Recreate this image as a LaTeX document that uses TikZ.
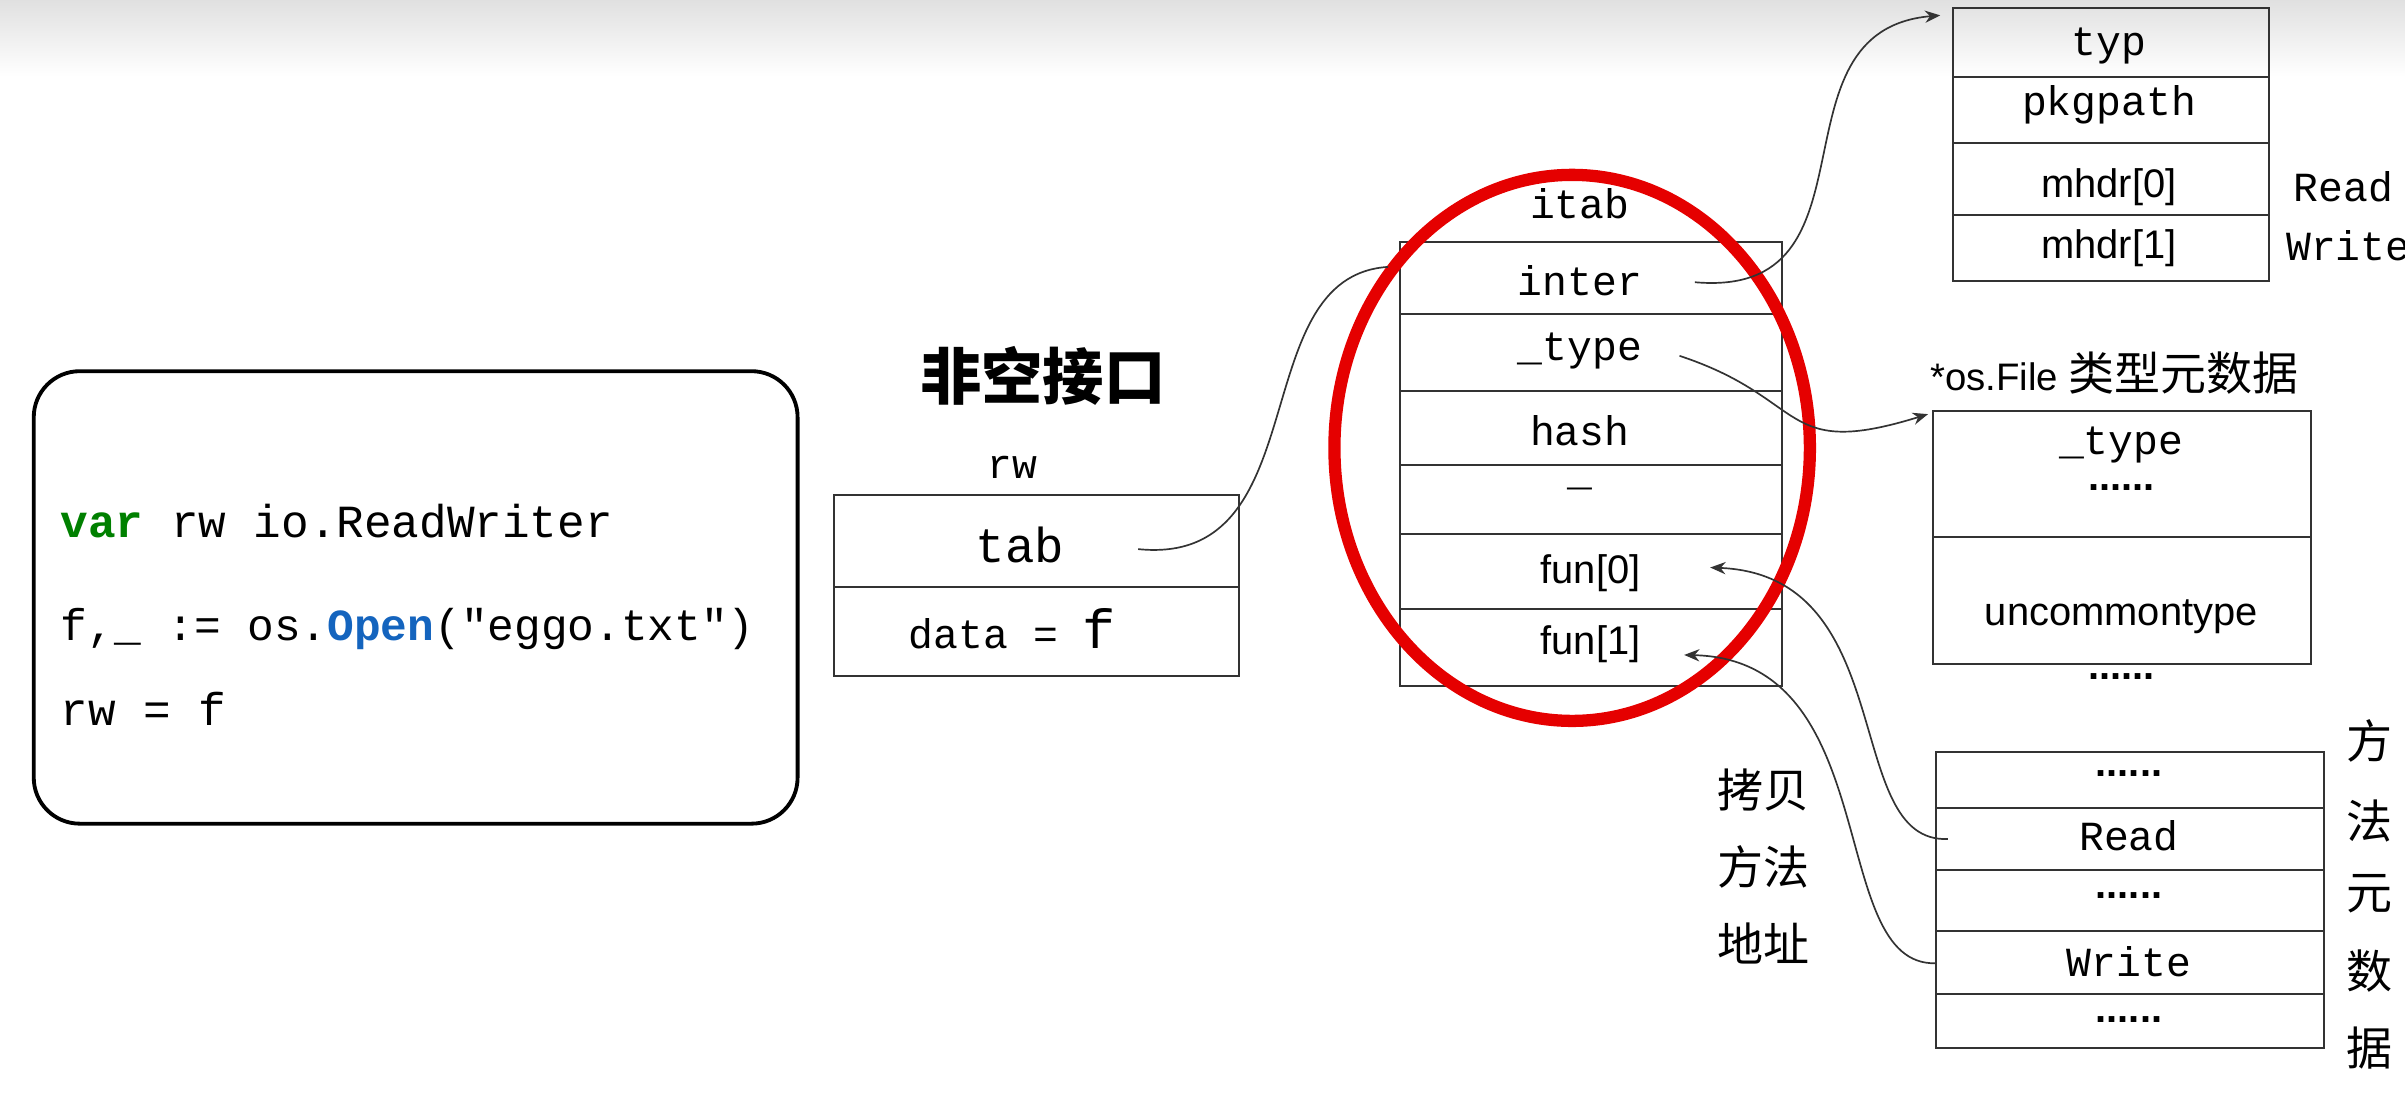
\documentclass[tikz,border=0pt]{standalone}
\usepackage{fontspec}
\setmainfont{Liberation Sans}
\setsansfont{Liberation Sans}
\setmonofont{Liberation Mono}
\newfontfamily\cjk{Noto Sans CJK SC}
\usetikzlibrary{arrows.meta}
\definecolor{kwgreen}{RGB}{0,128,0}
\definecolor{kwblue}{RGB}{20,100,190}
\begin{document}
\begin{tikzpicture}[x=1pt,y=-1pt,
  box/.style={draw=black!80,line width=1.3pt},
  mt/.style={font=\fontsize{27}{30}\selectfont\ttfamily},
  st/.style={font=\fontsize{26}{28}\selectfont\sffamily},
  ck/.style={font=\fontsize{30}{34}\selectfont\cjk},
  conn/.style={draw=black!80,line width=1.1pt},
  arr/.style={conn,-{Stealth[length=10pt,width=8pt]}}]
\useasboundingbox (0,0) rectangle (1568,716);
\shade[top color=black!12,bottom color=white] (0,0) rectangle (1568,50);
% code box
\draw[line width=2.5pt,rounded corners=30pt] (22,242) rectangle (520,537);
\node[anchor=west,font=\fontsize{30}{34}\selectfont\ttfamily] (c1) at (36,340) {\textcolor{kwgreen}{\textbf{var}} rw io.ReadWriter};
\node[anchor=west,font=\fontsize{29}{34}\selectfont\ttfamily] (c2) at (36,410) {f,\_ := os.\textcolor{kwblue}{\textbf{Open}}("eggo.txt")};
\node[anchor=west,font=\fontsize{30}{34}\selectfont\ttfamily] (c3) at (36,462) {rw = f};
% rw
\node[font=\fontsize{40}{44}\selectfont\cjk\bfseries] (title) at (680,245) {非空接口};
\node[mt] (rwl) at (660,305) {rw};
\draw[box] (544,323) rectangle (808,441);
\draw[box] (544,383) -- (808,383);
\node[font=\fontsize{32}{36}\selectfont\ttfamily] (tab) at (665,355) {tab};
\node[mt] (data) at (660,410) {data = \fontsize{36}{36}\selectfont f};
% itab
\node[mt] (itab) at (1030,133) {itab};
\draw[box] (913,158) rectangle (1162,447);
\foreach \y in {205,255,303,348,397} \draw[box] (913,\y) -- (1162,\y);
\node[mt] (inter) at (1030,183) {inter};
\node[mt] (ty) at (1030,229) {\_type};
\node[mt] (hash) at (1030,281) {hash};
\node[mt] (us) at (1030,318) {\_};
\node[st] (f0) at (1037,374) {fun[0]};
\node[st] (f1) at (1037,420) {fun[1]};
\draw[red!90!black,line width=8pt] (1025,292) ellipse [x radius=155, y radius=178];
% typ box
\draw[box] (1273,5) rectangle (1479,183);
\foreach \y in {50,93,140} \draw[box] (1273,\y) -- (1479,\y);
\node[mt] (typ) at (1375,30) {typ};
\node[mt] (pkg) at (1375,68) {pkgpath};
\node[st] (m0) at (1375,122) {mhdr[0]};
\node[st] (m1) at (1375,162) {mhdr[1]};
\node[mt,anchor=west] (rd) at (1492,122) {Read};
\node[mt,anchor=west] (wr) at (1487,160) {Write};
% os.File type
\node[anchor=west] (osf) at (1255,243) {\fontsize{25}{28}\selectfont\sffamily *os.File \fontsize{30}{34}\selectfont\cjk 类型元数据};
\draw[box] (1260,268) rectangle (1507,433);
\draw[box] (1260,350) -- (1507,350);
\node[mt] (t2) at (1383,290) {\_type};
\node[st] (d1) at (1383,318) {\textbf{......}};
\node[st] (unc) at (1383,402) {uncommontype};
\node[st] (d2) at (1383,441) {\textbf{......}};
% methods
\draw[box] (1262,490) rectangle (1515,683);
\foreach \y in {527,567,607,648} \draw[box] (1262,\y) -- (1515,\y);
\node[st] (e1) at (1388,504) {\textbf{......}};
\node[mt] (mr) at (1388,545) {Read};
\node[st] (e2) at (1388,584) {\textbf{......}};
\node[mt] (mw) at (1388,627) {Write};
\node[st] (e3) at (1388,665) {\textbf{......}};
\foreach \c/\y in {方/483,法/535,元/583,数/633,据/683} \node[ck] at (1545,\y) {\c};
\node[ck] (k1) at (1150,515) {拷贝};
\node[ck] (k2) at (1150,565) {方法};
\node[ck] (k3) at (1150,615) {地址};
% connectors
\coordinate (tabR) at (742,358);
\coordinate (interL) at (905,174);
\draw[conn] (tabR) .. controls (860,370) and (810,180) .. (interL);
\coordinate (interR) at (1105,184);
\coordinate (typTL) at (1265,10);
\draw[arr] (interR) .. controls (1230,195) and (1150,20) .. (typTL);
\coordinate (tyR) at (1095,232);
\coordinate (tbox) at (1257,270);
\draw[arr] (tyR) .. controls (1180,260) and (1160,300) .. (tbox);
\coordinate (rdL) at (1270,547);
\coordinate (f0R) at (1115,370);
\draw[arr] (rdL) .. controls (1200,550) and (1240,375) .. (f0R);
\coordinate (wrL) at (1262,628);
\coordinate (f1R) at (1098,427);
\draw[arr] (wrL) .. controls (1190,630) and (1230,430) .. (f1R);
\end{tikzpicture}
\end{document}
